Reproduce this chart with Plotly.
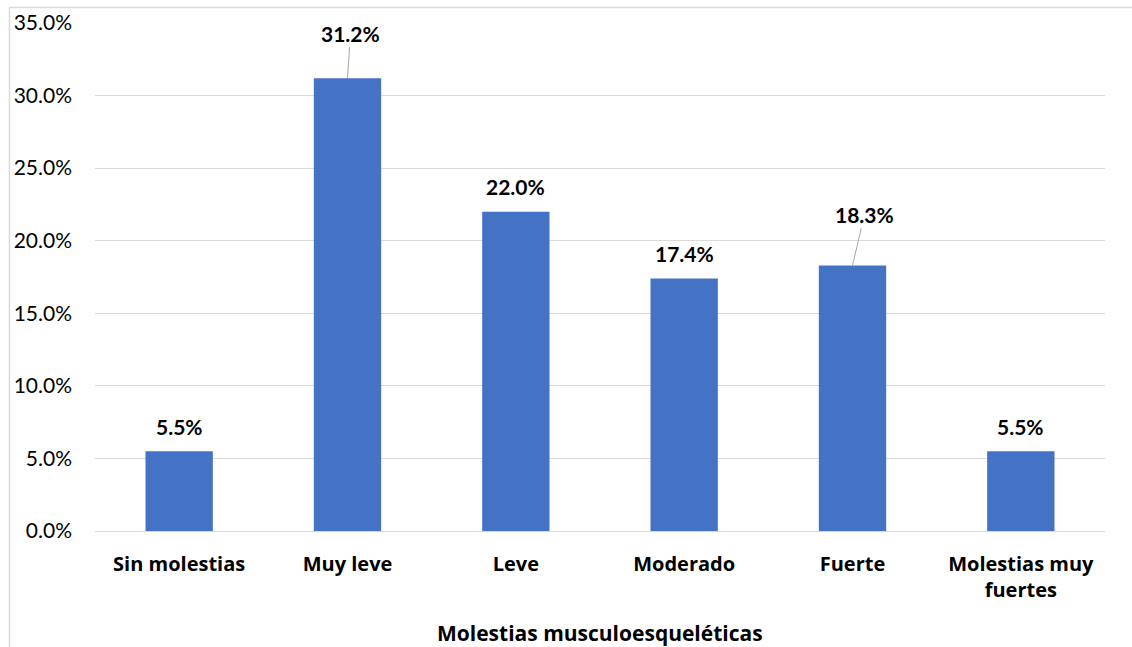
import plotly.graph_objects as go

# Data
categorias = ["Sin molestias", "Muy leve", "Leve", "Moderado", "Fuerte", "Molestias muy<br>fuertes"]
porcentajes = [5.5, 31.2, 22.0, 17.4, 18.3, 5.5]
etiquetas = ["5.5%", "31.2%", "22.0%", "17.4%", "18.3%", "5.5%"]
y_ticks = [0, 5, 10, 15, 20, 25, 30, 35]
y_tick_text = ["0.0%", "5.0%", "10.0%", "15.0%", "20.0%", "25.0%", "30.0%", "35.0%"]
x_title = "Molestias musculoesqueléticas"

# Label placement: (dx, dy) pixel offsets of the label centre from the bar top,
# and whether a leader line is drawn
label_offsets = [(0, -25, False), (3, -45, True), (0, -25, False),
                 (0, -25, False), (12, -51, True), (0, -25, False)]

FONT = "Lato"
BOLD_FONT = "Open Sans"
FS = 21
W, H = 1132, 647
M_L, M_R, M_T, M_B = 95, 27, 23, 116

fig = go.Figure(go.Bar(
    x=categorias,
    y=porcentajes,
    marker=dict(color="#4472C4", line=dict(width=0)),
    width=0.4,
    hoverinfo="skip",
))

annotations = []
for cat, val, txt, (dx, dy, leader) in zip(categorias, porcentajes, etiquetas, label_offsets):
    if leader:
        annotations.append(dict(
            x=cat, y=val, text=f"<b>{txt}</b>", showarrow=True,
            ax=dx, ay=dy, arrowhead=0, arrowwidth=1, arrowcolor="#a6a6a6",
            standoff=0, startstandoff=0,
            font=dict(family=FONT, size=FS, color="#000000"),
        ))
    else:
        annotations.append(dict(
            x=cat, y=val, text=f"<b>{txt}</b>", showarrow=False,
            xshift=dx, yshift=-dy, yanchor="middle",
            font=dict(family=FONT, size=FS, color="#000000"),
        ))

pw = W - M_L - M_R
ph = H - M_T - M_B
def px_x(px):
    return (px - M_L) / pw
def px_y(py):
    return (H - M_B - py) / ph

# Axis title, placed below the category labels
annotations.append(dict(
    xref="paper", yref="paper", x=0.5, y=px_y(633), yanchor="middle",
    text=f"<b>{x_title}</b>", showarrow=False,
    font=dict(family=BOLD_FONT, size=21, color="#000000"),
))

# Chart frame (left and top edges)
shapes = [
    dict(type="line", xref="paper", yref="paper", x0=px_x(9.5), x1=px_x(W + 5),
         y0=px_y(7.5), y1=px_y(7.5), line=dict(color="#d9d9d9", width=1.5)),
    dict(type="line", xref="paper", yref="paper", x0=px_x(9.5), x1=px_x(9.5),
         y0=px_y(7.5), y1=px_y(H + 5), line=dict(color="#d9d9d9", width=1.5)),
]

fig.update_layout(
    width=W, height=H,
    margin=dict(l=M_L, r=M_R, t=M_T, b=M_B),
    paper_bgcolor="white", plot_bgcolor="white",
    showlegend=False,
    bargap=0.6,
    font=dict(family=FONT, size=FS, color="#000000"),
    annotations=annotations,
    shapes=shapes,
    xaxis=dict(
        showgrid=False, showline=False, zeroline=False, automargin=False,
        ticks="", ticklabelstandoff=19,
        tickfont=dict(family=BOLD_FONT, size=20, color="#000000", weight="bold"),
    ),
    yaxis=dict(
        range=[0, 35], automargin=False,
        tickvals=y_ticks, ticktext=y_tick_text,
        showgrid=True, gridcolor="#d9d9d9", gridwidth=1.3,
        zeroline=True, zerolinecolor="#d9d9d9", zerolinewidth=1.3,
        showline=False, ticks="", ticklabelstandoff=22,
        tickfont=dict(family=FONT, size=FS, color="#000000"),
    ),
)

fig.write_html("out.html")
